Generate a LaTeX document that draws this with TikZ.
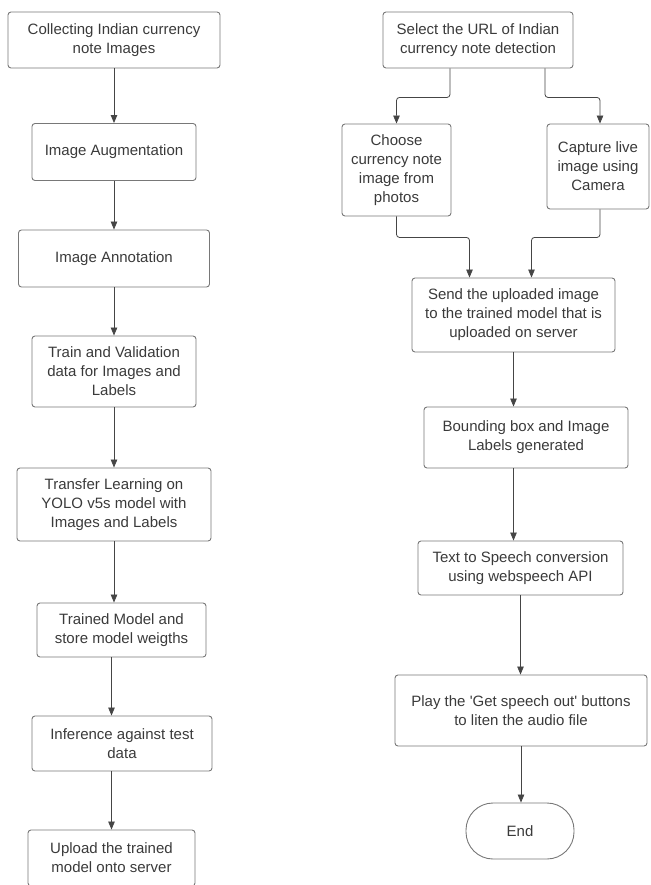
\documentclass[tikz,border=0pt]{standalone}
\usepackage{fontspec}
\setmainfont{Liberation Sans}
\usepackage{xcolor}
\usepackage{tikz}
\usetikzlibrary{arrows.meta}
\definecolor{boxline}{HTML}{787878}
\definecolor{boxtext}{HTML}{3A3A3A}
\definecolor{linkline}{HTML}{454545}

\begin{document}
\begin{tikzpicture}[x=1pt, y=-1pt,
    every node/.style={font=\fontsize{15}{19}\selectfont, text=boxtext},
    process/.style={draw=boxline, line width=0.9pt, rounded corners=3pt, align=center, inner sep=0pt},
    terminal/.style={draw=boxline, line width=0.9pt, rounded corners=27pt, align=center, inner sep=0pt},
    arrow/.style={-{Triangle[length=8pt, width=6.5pt]}, draw=linkline, line width=0.8pt},
    elbow/.style={arrow, rounded corners=3pt},
]
\useasboundingbox (0,0) rectangle (650,885);

% training pipeline
\node[process, minimum width=212pt, minimum height=56pt] (collect) at (114,40) {Collecting Indian currency\\note Images};
\node[process, minimum width=164pt, minimum height=57pt] (augment) at (114,152) {Image Augmentation};
\node[process, minimum width=191pt, minimum height=57pt] (annotate) at (114,258.5) {Image Annotation};
\node[process, minimum width=164pt, minimum height=71pt] (split) at (114,371.5) {Train and Validation\\data for Images and\\Labels};
\node[process, minimum width=194pt, minimum height=73pt] (transfer) at (114,504.5) {Transfer Learning on\\YOLO v5s model with\\Images and Labels};
\node[process, minimum width=169pt, minimum height=54pt] (trained) at (121.5,630) {Trained Model and\\store model weigths};
\node[process, minimum width=180pt, minimum height=55pt] (infer) at (122,743.5) {Inference against test\\data};
\node[process, minimum width=167pt, minimum height=56pt] (upload) at (111.5,858) {Upload the trained\\model onto server};

% detection app
\node[process, minimum width=190pt, minimum height=56pt] (url) at (478,40) {Select the URL of Indian\\currency note detection};
\node[process, minimum width=109pt, minimum height=92pt] (photos) at (396.5,170) {Choose\\currency note\\image from\\photos};
\node[process, minimum width=102pt, minimum height=85pt] (camera) at (598,166.5) {Capture live\\image using\\Camera};
\node[process, minimum width=203pt, minimum height=74pt] (send) at (513.5,315) {Send the uploaded image\\to the trained model that is\\uploaded on server};
\node[process, minimum width=204pt, minimum height=61pt] (bbox) at (526,437.5) {Bounding box and Image\\Labels generated};
\node[process, minimum width=205pt, minimum height=54pt] (tts) at (520.5,568) {Text to Speech conversion\\using webspeech API};
\node[process, minimum width=252pt, minimum height=71pt] (play) at (521,710.5) {Play the \textquotesingle Get speech out\textquotesingle{} buttons\\to liten the audio file};
\node[terminal, minimum width=108pt, minimum height=56pt] (end) at (520,831) {End};

\draw[arrow] (collect.south) -- (collect.south |- augment.north);
\draw[arrow] (augment.south) -- (augment.south |- annotate.north);
\draw[arrow] (annotate.south) -- (annotate.south |- split.north);
\draw[arrow] (split.south) -- (split.south |- transfer.north);
\draw[arrow] (transfer.south) -- (transfer.south |- trained.north);
\draw[arrow] (trained.south -| upload) -- (upload |- infer.north);
\draw[arrow] (infer.south -| upload) -- (upload.north);

\draw[elbow] ([xshift=-28pt]url.south) -- ++(0,29) -| (photos.north);
\draw[elbow] ([xshift=67pt]url.south) -- ++(0,29) -| ([xshift=2pt]camera.north);
\draw[elbow] (photos.south) -- ++(0,21) -| ([xshift=-44pt]send.north);
\draw[elbow] ([xshift=2pt]camera.south) -- ++(0,28) -| ([xshift=18pt]send.north);
\draw[arrow] (send.south) -- (send.south |- bbox.north);
\draw[arrow] (send.south |- bbox.south) -- (send.south |- tts.north);
\draw[arrow] (tts.south) -- (tts.south |- play.north);
\draw[arrow] (play.south) -- (play.south |- end.north);
\end{tikzpicture}
\end{document}
